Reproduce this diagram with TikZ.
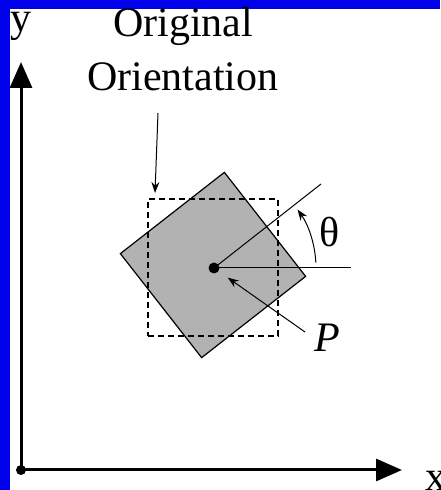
\documentclass[tikz,border=0pt]{standalone}
\usepackage{fontspec}
\setmainfont{Liberation Serif}
\usetikzlibrary{arrows.meta, positioning, calc}
\definecolor{bandblue}{RGB}{0,0,235}

\begin{document}
\begin{tikzpicture}[x=1pt, y=1pt,
    big/.style={font=\fontsize{42}{54}\selectfont, inner sep=0pt},
    axis/.style={line width=3pt, -{Triangle[length=26pt, width=22pt]}},
    arr/.style={line width=1pt, -{Stealth[length=11pt, width=8pt]}},
    dot/.style={circle, fill=black, inner sep=0pt, minimum size=#1},
  ]
  \useasboundingbox (0,0) rectangle (440,490);
  \fill[bandblue] (0,0) rectangle (10,490);
  \fill[bandblue] (0,481) rectangle (440,490);

  % axes
  \node[dot=10pt] (O) at (21,20) {};
  \coordinate (ytip) at (21,428);
  \coordinate (xtip) at (402,20);
  \draw[axis] (O.center) -- (ytip);
  \draw[axis] (O.center) -- (xtip);
  \node[big, anchor=base west] (ylbl) at (10,458) {y};
  \node[big, anchor=base west] (xlbl) at (425,0) {x};

  % rotated tile and its original outline
  \node[draw, fill=black!30, line width=1.2pt, minimum size=132pt, rotate=38] (tile) at (213,225) {};
  \node[draw, dashed, line width=1.2pt, dash pattern=on 6pt off 4pt,
        minimum width=130pt, minimum height=137pt] (orig) at (213,222.5) {};

  \node[dot=11pt] (P) at (214,222) {};
  \coordinate (ref) at (351,222);
  \coordinate (rot) at (321,306);
  \draw[line width=1pt] (P.center) -- (ref);
  \draw[line width=1pt] (P.center) -- (rot);
  \draw[arr] ([shift={(3:102)}]P.center) arc[start angle=3, end angle=35, radius=102];
  \node[big] (theta) at (330,258) {θ};

  \node[big] (plbl) at (327,152) {\textit{P}};
  \coordinate (ptail) at (305,158);
  \draw[arr, shorten >=11pt] (ptail) -- (P);

  \node[big, align=center, anchor=base] (title) at (183,399) {Original\\Orientation};
  \coordinate (otail) at (158,377);
  \coordinate (ohead) at (155,297);
  \draw[arr] (otail) -- (ohead);
\end{tikzpicture}
\end{document}
